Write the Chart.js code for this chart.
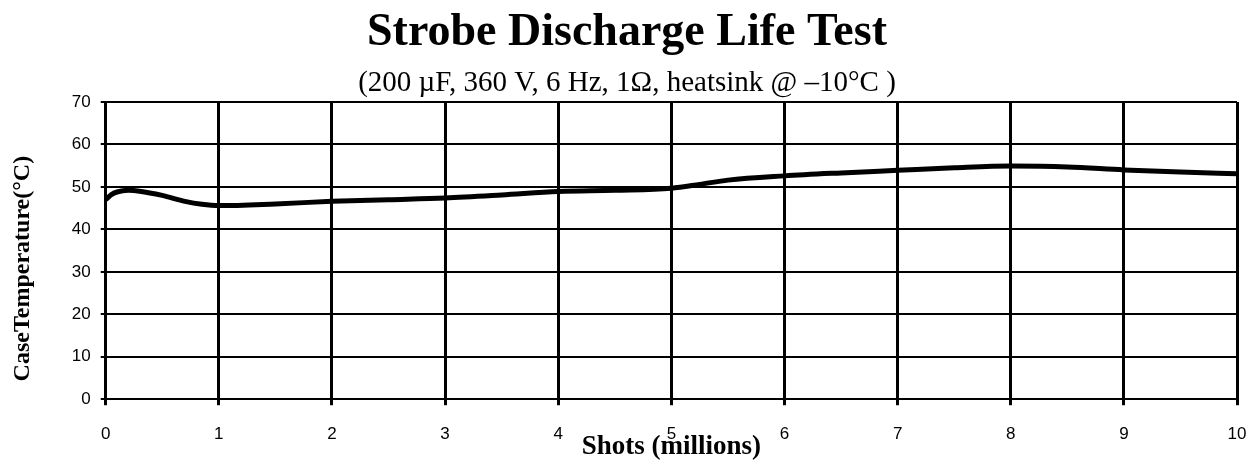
<!DOCTYPE html>
<html>
<head>
<meta charset="utf-8">
<script src="https://cdn.jsdelivr.net/npm/chart.js@4"></script>
<style>
  html, body { margin: 0; padding: 0; background: #fff; }
  #wrap { width: 1256px; height: 463px; position: relative; }
</style>
</head>
<body>
<div id="wrap"><canvas id="chart"></canvas></div>
<script>
// Shots (millions) and case temperature (°C)
const shots = [0, 0.05, 0.1, 0.2, 0.3, 0.5, 0.7, 0.85, 1, 1.5, 2, 2.5, 3, 3.5, 4, 4.5, 5, 5.25, 5.5, 6, 6.5, 7, 7.5, 8, 8.5, 9, 9.5, 10];
const temps = [47.0, 48.2, 48.8, 49.2, 49.0, 48.0, 46.6, 45.9, 45.6, 46.0, 46.6, 47.0, 47.4, 48.1, 48.9, 49.2, 49.7, 50.6, 51.6, 52.6, 53.3, 53.9, 54.5, 54.9, 54.7, 54.0, 53.5, 53.1];
const yTicks = [0, 10, 20, 30, 40, 50, 60, 70];
const xTicks = [0, 1, 2, 3, 4, 5, 6, 7, 8, 9, 10];

const points = shots.map((s, i) => ({ x: s, y: temps[i] }));

Chart.defaults.color = '#000';
Chart.defaults.animation = false;

new Chart(document.getElementById('chart'), {
  type: 'line',
  data: {
    datasets: [{
      data: points,
      borderColor: '#000',
      borderWidth: 5,
      pointRadius: 0,
      cubicInterpolationMode: 'monotone',
      fill: false
    }]
  },
  options: {
    responsive: true,
    maintainAspectRatio: false,
    layout: { padding: { left: 8, right: 10, top: 0, bottom: 0 } },
    plugins: {
      legend: { display: false },
      tooltip: { enabled: false },
      title: {
        display: true,
        text: 'Strobe Discharge Life Test',
        font: { family: 'Liberation Serif', size: 46, weight: 'bold' },
        padding: { top: 6, bottom: 0 }
      },
      subtitle: {
        display: true,
        text: '(200 µF, 360 V, 6 Hz, 1Ω, heatsink @ –10°C )',
        font: { family: 'Liberation Serif', size: 29 },
        padding: { top: 5, bottom: 1 }
      }
    },
    scales: {
      x: {
        type: 'linear',
        min: 0,
        max: 10,
        afterBuildTicks: axis => { axis.ticks = xTicks.map(v => ({ value: v })); },
        // tick padding is also added to the side margins; set the right margin by hand
        afterFit: axis => { axis.paddingRight = 19; },
        grid: { color: '#000', lineWidth: 3, tickLength: 6 },
        border: { color: '#000', width: 2 },
        ticks: {
          font: { family: 'Liberation Sans', size: 17 },
          padding: 19,
          maxRotation: 0
        },
        title: {
          display: true,
          text: 'Shots (millions)',
          font: { family: 'Liberation Serif', size: 27, weight: 'bold' },
          padding: { top: -33, bottom: 0 }
        }
      },
      y: {
        min: 0,
        max: 70,
        afterBuildTicks: axis => { axis.ticks = yTicks.map(v => ({ value: v })); },
        grid: { color: '#000', lineWidth: 2, tickLength: 5 },
        border: { color: '#000', width: 3 },
        ticks: {
          font: { family: 'Liberation Sans', size: 17 },
          padding: 10
        },
        title: {
          display: true,
          text: 'CaseTemperature(°C)      ',
          font: { family: 'Liberation Serif', size: 24, weight: 'bold' },
          padding: { top: 0, bottom: 25 }
        }
      }
    }
  }
});
</script>
</body>
</html>
